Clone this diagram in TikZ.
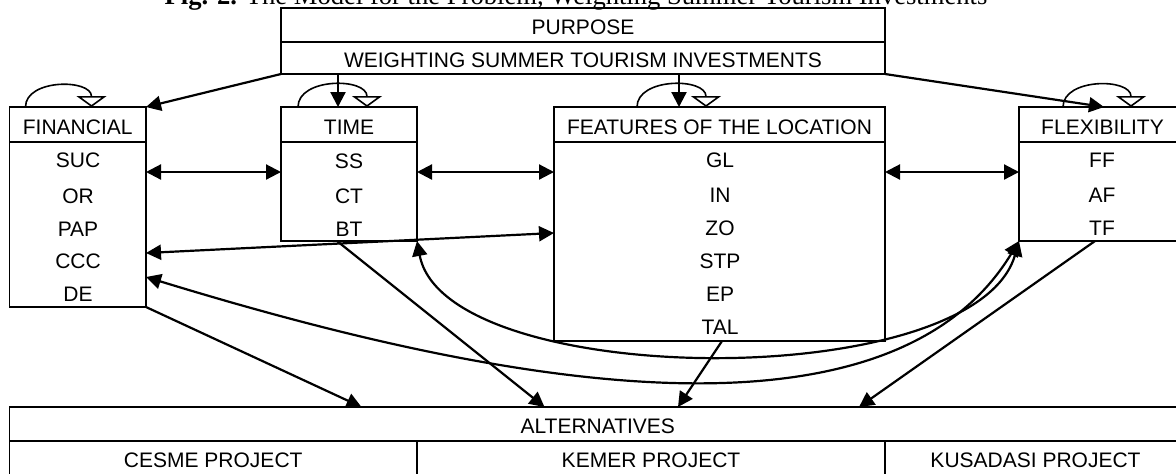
\documentclass[tikz,border=0pt]{standalone}
\usepackage{fontspec}
\setmainfont{Liberation Sans}
\newfontfamily\capfont{Liberation Serif}
\usetikzlibrary{arrows.meta,calc}

\tikzset{
  box/.style={draw,rectangle,line width=.8pt,anchor=north west,inner sep=0pt,
    outer sep=0pt,text height=9.9pt,text depth=0pt},
  item/.style={inner sep=0pt},
  link/.style={draw,line width=1.1pt,-{Triangle[length=7.5pt,width=7.5pt]}},
  both/.style={draw,line width=1.1pt,{Triangle[length=7.5pt,width=7.5pt]}-{Triangle[length=7.5pt,width=7.5pt]}},
  selfloop/.style={draw,line width=.8pt,-{Triangle[open,length=5.5pt,width=15pt]},
    out=90,in=90,looseness=1.1}
}

\begin{document}
\begin{tikzpicture}[x=0.5pt,y=-0.5pt,font=\fontsize{10.5}{12}\selectfont]
      \useasboundingbox (0,0) rectangle (1176,473);

      \node[anchor=base,font=\capfont\fontsize{13.3}{15}\selectfont] (cap) at (576,4)
        {\textbf{Fig. 2.} The Model for the Problem, Weighting Summer Tourism Investments};

      \begin{scope}[every node/.style={box}]
        \node[minimum width=302pt,minimum height=17pt]   (purh) at (281,8)   {PURPOSE};
        \node[minimum width=302pt,minimum height=16pt]   (purb) at (281,42)  {WEIGHTING SUMMER TOURISM INVESTMENTS};
        \node[minimum width=68.25pt,minimum height=17.5pt] (finh) at (9.5,107) {FINANCIAL};
        \node[minimum width=68.25pt,minimum height=82.5pt] (finb) at (9.5,142) {};
        \node[minimum width=68pt,minimum height=17.5pt]  (timh) at (281,107) {TIME};
        \node[minimum width=68pt,minimum height=49.5pt]  (timb) at (281,142) {};
        \node[minimum width=165.5pt,minimum height=17.5pt] (feah) at (554,107) {FEATURES OF THE LOCATION};
        \node[minimum width=165.5pt,minimum height=99.5pt] (feab) at (554,142) {};
        \node[minimum width=83.5pt,minimum height=17.5pt] (flxh) at (1019,107) {FLEXIBILITY};
        \node[minimum width=83.5pt,minimum height=49.5pt] (flxb) at (1019,142) {};
        \node[minimum width=588.25pt,minimum height=17pt] (alth) at (9.5,407) {ALTERNATIVES};
        \node[minimum width=203.75pt,minimum height=17pt] (ces) at (9.5,441) {CESME PROJECT};
        \node[minimum width=234pt,minimum height=17pt]   (kem) at (417,441) {KEMER PROJECT};
        \node[minimum width=150.5pt,minimum height=17pt] (kus) at (885,441) {KUSADASI PROJECT};
      \end{scope}

      \begin{scope}[every node/.style={item}]
        \node (suc) at (78,160)  {SUC};
        \node (or)  at (78,196)  {OR};
        \node (pap) at (78,229)  {PAP};
        \node (ccc) at (78,261)  {CCC};
        \node (de)  at (78,294)  {DE};
        \node (ss)  at (349,161) {SS};
        \node (ct)  at (349,196) {CT};
        \node (bt)  at (349,229) {BT};
        \node (gl)  at (720,160) {GL};
        \node (in)  at (720,195) {IN};
        \node (zo)  at (720,228) {ZO};
        \node (stp) at (720,261) {STP};
        \node (ep)  at (720,294) {EP};
        \node (tal) at (720,327) {TAL};
        \node (ff)  at (1102,160) {FF};
        \node (af)  at (1102,195) {AF};
        \node (tf)  at (1102,228) {TF};
      \end{scope}

      % self loops
      \path ($(finh.north west)+(16,0)$) edge[selfloop] ($(finh.north west)+(82,0)$);
      \path ($(timh.north west)+(17,0)$) edge[selfloop] ($(timh.north west)+(86,0)$);
      \path ($(feah.north west)+(83,0)$) edge[selfloop] ($(feah.north west)+(152,0)$);
      \path ($(flxh.north west)+(44,0)$) edge[selfloop] ($(flxh.north west)+(112,0)$);

      % purpose to criteria
      \path (purb.south west) edge[link] (finh.north east);
      \path ($(purb.south west)+(57,0)$) edge[link] ($(timh.north west)+(57,0)$);
      \path ($(purb.south west)+(398,0)$) edge[link] ($(feah.north west)+(125,0)$);
      \path (purb.south east) edge[link] ($(flxh.north west)+(85,0)$);

      % between criteria
      \path ($(finb.north east)+(0,30)$) edge[both] ($(timb.north west)+(0,30)$);
      \path ($(timb.north east)+(0,30)$) edge[both] ($(feab.north west)+(0,30)$);
      \path ($(feab.north east)+(0,30)$) edge[both] ($(flxb.north west)+(0,30)$);
      \path ($(finb.north east)+(0,111)$) edge[both] ($(feab.north west)+(0,91)$);
      \draw[both] (timb.south east) .. controls (445,390) and (975,395) .. (flxb.south west);
      \draw[both] ($(finb.north east)+(0,135)$) .. controls (450,370) and (880,470) .. (flxb.south west);

      % criteria to alternatives
      \path (finb.south east) edge[link] ($(alth.north west)+(352,0)$);
      \path ($(timb.south west)+(56,0)$) edge[link] ($(alth.north west)+(535,0)$);
      \path ($(feab.south west)+(168,0)$) edge[link] ($(alth.north west)+(668.5,0)$);
      \path ($(flxb.south west)+(76,0)$) edge[link] ($(alth.north west)+(849.5,0)$);

\end{tikzpicture}
\end{document}
